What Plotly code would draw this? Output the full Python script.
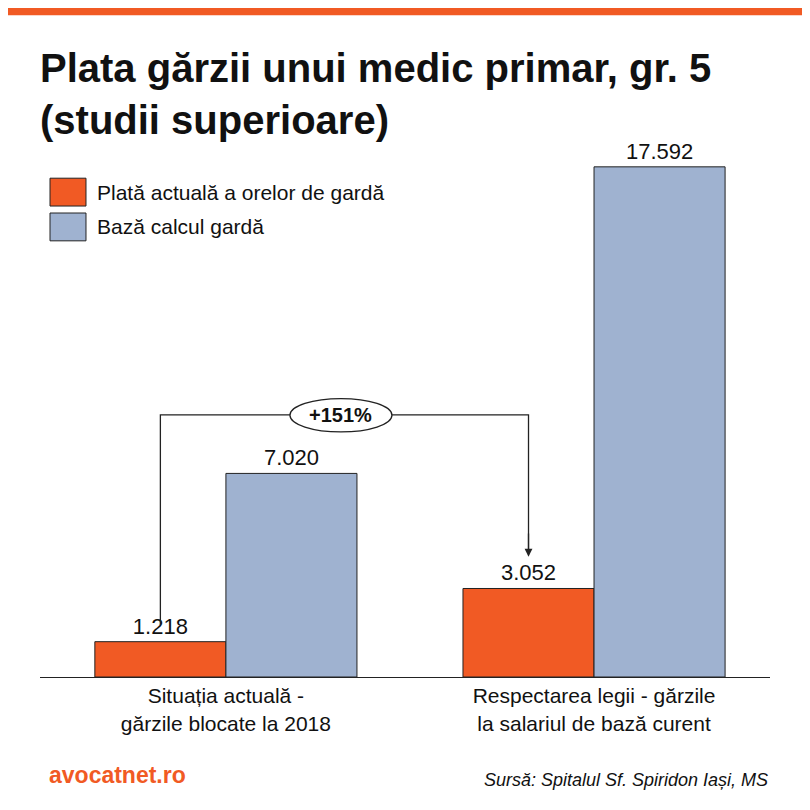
import plotly.graph_objects as go

categories = ["Situația actuală -<br>gărzile blocate la 2018",
              "Respectarea legii - gărzile<br>la salariul de bază curent"]
series_names = ["Plată actuală a orelor de gardă", "Bază calcul gardă"]
plata_actuala = [1218, 3052]
baza_calcul = [7020, 17592]
labels_plata = ["1.218", "3.052"]
labels_baza = ["7.020", "17.592"]

ORANGE = "#f15a24"
BLUE = "#9fb2d0"
FONT = "Liberation Sans, Arial, sans-serif"

x = [0, 1]
fig = go.Figure()
fig.add_trace(go.Bar(x=x, y=plata_actuala, name=series_names[0],
                     marker=dict(color=ORANGE, line=dict(color="#222", width=1)),
                     text=labels_plata, textposition="outside", cliponaxis=False,
                     textfont=dict(size=22, color="#111")))
fig.add_trace(go.Bar(x=x, y=baza_calcul, name=series_names[1],
                     marker=dict(color=BLUE, line=dict(color="#222", width=1)),
                     text=labels_baza, textposition="outside", cliponaxis=False,
                     textfont=dict(size=22, color="#111")))

# bracket +151%
fig.add_shape(type="path", path="M -0.178,1794 L -0.178,9037 L 0.822,9037 L 0.822,4300",
              line=dict(color="#222", width=1.3))
fig.add_annotation(x=0.822, y=4150, ax=0.822, ay=5000, xref="x", yref="y", axref="x", ayref="y",
                   showarrow=True, arrowhead=2, arrowsize=1.2, arrowwidth=1.3, arrowcolor="#222", text="")
fig.add_shape(type="circle", x0=0.174, x1=0.451, y0=8451, y1=9600,
              fillcolor="white", line=dict(color="#222", width=1.3))
fig.add_annotation(x=0.31, y=9030, text="<b>+151%</b>", showarrow=False,
                   font=dict(size=20, color="#111", family=FONT))

# manual legend
for i, (name, col) in enumerate(zip(series_names, [ORANGE, BLUE])):
    y1 = 0.860 - i * 0.060
    fig.add_shape(type="rect", xref="paper", yref="paper", x0=0.0137, x1=0.063,
                  y0=y1 - 0.048, y1=y1, fillcolor=col, line=dict(color="#222", width=1))
    fig.add_annotation(xref="paper", yref="paper", x=0.075, y=y1 - 0.024, xanchor="left",
                       yanchor="middle", text=name, showarrow=False,
                       font=dict(size=21, color="#111", family=FONT))

fig.update_layout(
    width=810, height=810,
    paper_bgcolor="white", plot_bgcolor="white",
    font=dict(family=FONT, color="#111"),
    barmode="group", bargap=0.288, bargroupgap=0,
    margin=dict(l=32, r=48, t=89, b=141),
    showlegend=False,
    xaxis=dict(range=[-0.505, 1.478], tickvals=x, ticktext=categories,
               tickfont=dict(size=21), showgrid=False, zeroline=False,
               showline=True, linecolor="#222", linewidth=1.2, ticks=""),
    yaxis=dict(range=[0, 20000], visible=False),
)
fig.add_shape(type="rect", xref="paper", yref="paper", x0=-0.1, x1=1.1, y0=1.141, y1=1.2,
              fillcolor=ORANGE, line=dict(width=0), layer="below")
fig.add_annotation(xref="paper", yref="paper", x=-0.003, y=1.092, xanchor="left", yanchor="top",
                   text="<b>Plata gărzii unui medic primar, gr. 5<br>(studii superioare)</b>",
                   showarrow=False, align="left", font=dict(size=40, color="#111", family=FONT))
fig.add_annotation(xref="paper", yref="paper", x=0.01, y=-0.169, xanchor="left", yanchor="middle",
                   text="<b>avocatnet.ro</b>", showarrow=False, font=dict(size=23, color=ORANGE, family=FONT))
fig.add_annotation(xref="paper", yref="paper", x=1.0, y=-0.178, xanchor="right", yanchor="middle",
                   text="<i>Sursă: Spitalul Sf. Spiridon Iași, MS</i>", showarrow=False,
                   font=dict(size=18, color="#111", family=FONT))

fig.write_html("out.html")
